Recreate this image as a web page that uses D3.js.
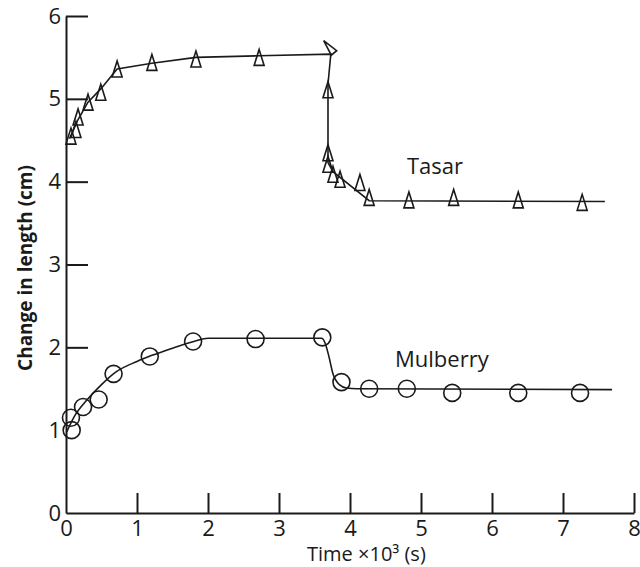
<!DOCTYPE html>
<html>
<head>
<meta charset="utf-8">
<script src="https://cdn.jsdelivr.net/npm/d3@7"></script>
<style>
  body { margin: 0; background: #fff; }
  svg { display: block; font-family: "Open Sans", sans-serif; }
</style>
</head>
<body>
<svg id="chart"></svg>
<script>
// measured points (markers)
const tasarTime = [0.07, 0.14, 0.17, 0.31, 0.49, 0.72, 1.21, 1.83, 2.72, 3.69, 3.69, 3.69, 3.76, 3.86, 4.14, 4.27, 4.83, 5.46, 6.37, 7.27];
const tasarLength = [4.55, 4.63, 4.78, 4.96, 5.08, 5.36, 5.44, 5.48, 5.50, 5.11, 4.35, 4.21, 4.09, 4.03, 3.99, 3.81, 3.78, 3.81, 3.78, 3.75];
// the one tipped-over triangle at the top of the drop
const tasarOddTime = [3.72];
const tasarOddLength = [5.61];

const mulberryTime = [0.08, 0.07, 0.24, 0.46, 0.67, 1.18, 1.79, 2.67, 3.61, 3.88, 4.27, 4.80, 5.44, 6.37, 7.24];
const mulberryLength = [1.00, 1.15, 1.28, 1.37, 1.68, 1.89, 2.07, 2.10, 2.12, 1.58, 1.50, 1.50, 1.45, 1.45, 1.45];

// drawn curves
const tasarFitTime = [0.05, 0.17, 0.31, 0.49, 0.72, 1.21, 1.83, 2.72, 3.73, 3.69, 3.69, 3.76, 4.27, 7.59];
const tasarFitLength = [4.52, 4.75, 4.96, 5.12, 5.36, 5.43, 5.50, 5.52, 5.54, 5.18, 4.23, 4.12, 3.77, 3.76];

const mulberryFitTime = [0.01, 0.12, 0.3, 0.5, 0.7, 1.0, 1.2, 1.5, 1.8, 2.0, 3.6, 3.65, 3.7, 3.76, 3.85, 3.95, 4.1, 7.69];
const mulberryFitLength = [0.98, 1.17, 1.37, 1.55, 1.70, 1.83, 1.90, 1.99, 2.07, 2.11, 2.11, 2.05, 1.90, 1.68, 1.55, 1.51, 1.50, 1.49];

const xTicks = [0, 1, 2, 3, 4, 5, 6, 7, 8];
const yTicks = [0, 1, 2, 3, 4, 5, 6];

const W = 640, H = 567;
const ink = '#1a1a1a';

const svg = d3.select('#chart').attr('width', W).attr('height', H);

const x = d3.scaleLinear().domain([0, 8]).range([66, 634]);
const y = d3.scaleLinear().domain([0, 6]).range([513, 16]);

// axes
const xAxis = svg.append('g')
  .attr('transform', `translate(0,${y(0)})`)
  .call(d3.axisBottom(x).tickValues(xTicks).tickFormat(d3.format('d'))
    .tickSize(-20).tickSizeOuter(0).tickPadding(7));

const yAxis = svg.append('g')
  .attr('transform', `translate(${x(0)},0)`)
  .call(d3.axisLeft(y).tickValues(yTicks).tickFormat(d3.format('d'))
    .tickSize(-22).tickSizeOuter(0).tickPadding(5));

// no visible tick marks at 0 and 1 on the y axis
yAxis.selectAll('.tick').filter(d => d < 2).select('line').remove();
xAxis.selectAll('.tick').filter(d => d === 0).select('line').remove();

[xAxis, yAxis].forEach(a => {
  a.select('.domain').attr('stroke', ink).attr('stroke-width', 2);
  a.selectAll('.tick line').attr('stroke', ink).attr('stroke-width', 2);
  a.selectAll('.tick text')
    .attr('fill', ink)
    .style('font-size', '22px')
    .style('font-family', '"Open Sans", sans-serif');
});

// curves
const tasarFit = tasarFitTime.map((t, i) => [t, tasarFitLength[i]]);
const mulberryFit = mulberryFitTime.map((t, i) => [t, mulberryFitLength[i]]);

svg.append('path')
  .datum(tasarFit)
  .attr('fill', 'none')
  .attr('stroke', ink)
  .attr('stroke-width', 1.6)
  .attr('d', d3.line().x(d => x(d[0])).y(d => y(d[1])));

svg.append('path')
  .datum(mulberryFit)
  .attr('fill', 'none')
  .attr('stroke', ink)
  .attr('stroke-width', 1.6)
  .attr('d', d3.line().x(d => x(d[0])).y(d => y(d[1])).curve(d3.curveMonotoneX));

// markers
const tri = 'M0,-8L5,8L-5,8Z';

svg.append('g').selectAll('path')
  .data(tasarTime.map((t, i) => [t, tasarLength[i]]))
  .join('path')
  .attr('d', tri)
  .attr('transform', d => `translate(${x(d[0])},${y(d[1])})`)
  .attr('fill', 'none')
  .attr('stroke', ink)
  .attr('stroke-width', 1.6)
  .attr('stroke-linejoin', 'miter');

svg.append('g').selectAll('path')
  .data(tasarOddTime.map((t, i) => [t, tasarOddLength[i]]))
  .join('path')
  .attr('d', 'M0,-10L3.5,6L-3.5,6Z')
  .attr('transform', d => `translate(${x(d[0])},${y(d[1])}) rotate(-40)`)
  .attr('fill', 'none')
  .attr('stroke', ink)
  .attr('stroke-width', 1.6);

svg.append('g').selectAll('circle')
  .data(mulberryTime.map((t, i) => [t, mulberryLength[i]]))
  .join('circle')
  .attr('cx', d => x(d[0]))
  .attr('cy', d => y(d[1]))
  .attr('r', 8.5)
  .attr('fill', 'none')
  .attr('stroke', ink)
  .attr('stroke-width', 1.6);

// series labels
svg.append('text')
  .attr('x', 407).attr('y', 174)
  .attr('fill', ink)
  .style('font-size', '22px')
  .text('Tasar');

svg.append('text')
  .attr('x', 395).attr('y', 367)
  .attr('fill', ink)
  .style('font-size', '22px')
  .text('Mulberry');

// axis titles
svg.append('text')
  .attr('x', 307).attr('y', 561)
  .attr('fill', ink)
  .style('font-size', '20px')
  .text('Time \u00d710\u00b3 (s)');

svg.append('text')
  .attr('transform', 'translate(32,268) rotate(-90)')
  .attr('text-anchor', 'middle')
  .attr('fill', ink)
  .style('font-size', '19px')
  .style('font-weight', 'bold')
  .text('Change in length (cm)');
</script>
</body>
</html>
